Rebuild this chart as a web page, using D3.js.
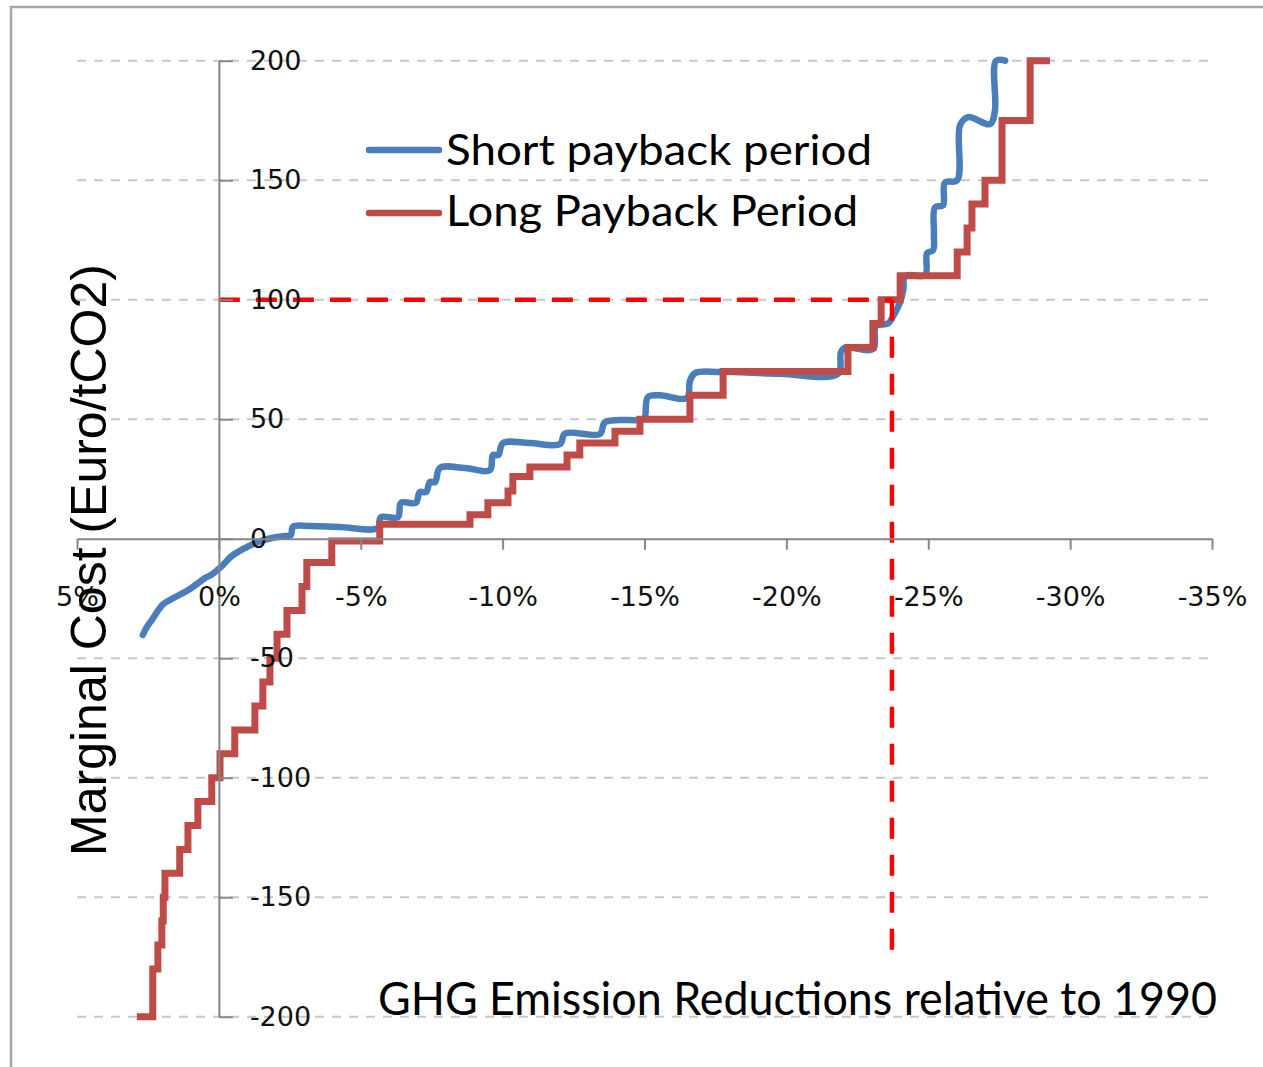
<!DOCTYPE html>
<html>
<head>
<meta charset="utf-8">
<script src="https://cdn.jsdelivr.net/npm/d3@7"></script>
<style>
  html, body { margin: 0; padding: 0; background: #fff; }
  svg { display: block; }
</style>
</head>
<body>
<svg id="chart" width="1263" height="1067"></svg>
<script>
// ---------- data ----------
const seriesNames = ["Short payback period", "Long Payback Period"];
const seriesColors = ["#4a7ebb", "#be4b48"];

const xTicks = [5, 0, -5, -10, -15, -20, -25, -30, -35];
const yTicks = [-200, -150, -100, -50, 0, 50, 100, 150, 200];

// Short payback period (smoothed line): reduction % vs marginal cost
const shortX = [2.68, 2.54, 2.36, 1.97, 1.55, 1.02, 0.49, 0.25, -0.11, -0.46, -0.92, -1.38, -1.87, -2.33, -2.54,
  -2.61, -3.21, -4.27, -5.60, -5.71, -6.31, -6.42, -6.94, -7.08, -7.30, -7.44, -7.62, -7.79, -8.67, -9.55,
  -9.66, -9.85, -10.01, -10.96, -12.02, -12.20, -13.43, -13.61, -14.84, -15.00, -15.12, -15.54, -16.50,
  -16.60, -16.78, -17.66, -19.77, -21.82, -21.92, -22.07, -23.05, -23.16, -23.58, -23.76, -24.01, -24.12,
  -24.19, -24.89, -24.96, -25.17, -25.20, -25.24, -25.52, -25.59, -26.02, -26.12, -26.40, -27.18, -27.35,
  -27.39, -27.71];
const shortCost = [-40.3, -37, -34, -27.5, -24.5, -21, -16.5, -15, -11.4, -7.2, -3.9, -1.4, 0.3, 1.1, 1.5,
  5, 5.3, 4.9, 4.5, 9, 9, 15, 15, 19.5, 19.5, 23.7, 23.7, 29.6, 29.6, 28.7,
  35, 35, 40, 40, 39.6, 44, 43.8, 48.8, 49.7, 50.5, 59.3, 60, 58.9,
  66, 69.3, 69.8, 69, 69, 78, 80, 79.4, 89, 90, 93, 99, 104,
  110, 110.3, 119.5, 120.7, 128, 138.7, 139.5, 149, 150, 173, 176.4, 173.5, 179,
  200, 200];

// Long payback period (step line): breakpoints and cost after each breakpoint
const longX = [2.89, 2.33, 2.15, 2.01, 1.96, 1.90, 1.38, 1.09, 0.74, 0.25, -0.04, -0.56, -1.27, -1.55,
  -1.80, -2.05, -2.40, -2.93, -3.10, -3.98, -5.67, -8.85, -9.48, -10.19, -10.36, -10.96, -12.27, -12.72,
  -13.96, -14.84, -16.60, -17.77, -22.17, -23.05, -23.34, -24.01, -26.02, -26.37, -26.54, -27.00, -27.60,
  -28.59, -29.29];
const longCost = [-200, -180, -170, -160, -150, -140, -130, -120, -110, -100, -90, -80, -70, -60,
  -50, -40, -30, -20, -10, -1, 6, 10, 15, 20, 26, 30, 35, 40,
  45, 50, 60, 70, 80, 90, 100, 110, 120, 130, 140, 150, 175,
  200, 200];

// target marker (dashed red)
const targetReduction = -23.72;
const targetCost = 100;
const targetLow = -174;

// ---------- drawing ----------
const svg = d3.select("#chart");
const x = d3.scaleLinear().domain([5, -35]).range([77, 1212]);
const y = d3.scaleLinear().domain([-200, 200]).range([1016.7, 60.7]);

// outer frame
svg.append("rect").attr("x", 11).attr("y", 7).attr("width", 1300).attr("height", 1100)
  .attr("fill", "none").attr("stroke", "#a6a6a6").attr("stroke-width", 2.5);

// gridlines
svg.append("g").selectAll("line").data(yTicks.filter(d => d !== 0)).join("line")
  .attr("x1", x(5)).attr("x2", x(-35))
  .attr("y1", d => y(d)).attr("y2", d => y(d))
  .attr("stroke", "#c8c8c8").attr("stroke-width", 2).attr("stroke-dasharray", "9,8");

// x axis
const xAxis = svg.append("g").attr("transform", `translate(0,${y(0)})`)
  .call(d3.axisBottom(x).tickValues(xTicks).tickSize(11).tickSizeOuter(0).tickPadding(37)
    .tickFormat(d => d + "%"));
// y axis
const yAxis = svg.append("g").attr("transform", `translate(${x(0)},0)`)
  .call(d3.axisRight(y).tickValues(yTicks).tickSize(14).tickSizeOuter(0).tickPadding(17)
    .tickFormat(d => String(d)));

[xAxis, yAxis].forEach(a => {
  a.selectAll("path.domain").attr("stroke", "#868686").attr("stroke-width", 2);
  a.selectAll(".tick line").attr("stroke", "#868686").attr("stroke-width", 2);
  a.selectAll(".tick text").attr("fill", "#111")
    .style("font-family", "'DejaVu Sans', Verdana, sans-serif").style("font-size", "27px");
});

// curves
const shortData = shortX.map((v, i) => [v, shortCost[i]]);
const longData = longX.map((v, i) => [v, longCost[i]]);

const curves = svg.append("g");
curves.append("path").datum(shortData)
  .attr("d", d3.line().x(d => x(d[0])).y(d => y(d[1])).curve(d3.curveCatmullRom.alpha(0.5)))
  .attr("fill", "none").attr("stroke", seriesColors[0]).attr("stroke-width", 6.5)
  .attr("stroke-linejoin", "round").attr("stroke-linecap", "round");

// target dashed lines
svg.append("line")
  .attr("x1", x(0)).attr("x2", x(targetReduction))
  .attr("y1", y(targetCost)).attr("y2", y(targetCost))
  .attr("stroke", "#ff0000").attr("stroke-width", 4.5).attr("stroke-dasharray", "21,16");
svg.append("line")
  .attr("x1", x(targetReduction)).attr("x2", x(targetReduction))
  .attr("y1", y(targetCost)).attr("y2", y(targetLow))
  .attr("stroke", "#ff0000").attr("stroke-width", 4.5).attr("stroke-dasharray", "21,16");

curves.append("path").datum(longData)
  .attr("d", d3.line().x(d => x(d[0])).y(d => y(d[1])).curve(d3.curveStepAfter))
  .attr("fill", "none").attr("stroke", seriesColors[1]).attr("stroke-width", 7)
  .attr("stroke-linejoin", "miter");

// raise tick labels above curves
svg.node().appendChild(yAxis.node());
svg.node().appendChild(xAxis.node());

// legend
const legend = svg.append("g");
const legendY = [150, 213];
const legendBase = [165, 226];
const legendLen = [426, 412];
seriesNames.forEach((name, i) => {
  legend.append("line").attr("x1", 369).attr("x2", 439)
    .attr("y1", legendY[i]).attr("y2", legendY[i])
    .attr("stroke", seriesColors[i]).attr("stroke-width", 6.5).attr("stroke-linecap", "round");
  legend.append("text").attr("x", 446).attr("y", legendBase[i])
    .attr("textLength", legendLen[i]).attr("lengthAdjust", "spacingAndGlyphs")
    .style("font-family", "Lato, 'Open Sans', sans-serif").style("font-size", "42px")
    .attr("fill", "#000").text(name);
});

// axis titles
svg.append("text").attr("x", 378).attr("y", 1015)
  .attr("textLength", 839).attr("lengthAdjust", "spacingAndGlyphs")
  .style("font-family", "Lato, 'Open Sans', sans-serif").style("font-size", "46px")
  .attr("fill", "#000").text("GHG Emission Reductions relative to 1990");

svg.append("text").attr("transform", "translate(106,560) rotate(-90)")
  .attr("text-anchor", "middle")
  .style("font-family", "'Liberation Sans', Arial, sans-serif").style("font-size", "50px")
  .attr("fill", "#000").text("Marginal Cost (Euro/tCO2)");
</script>
</body>
</html>
